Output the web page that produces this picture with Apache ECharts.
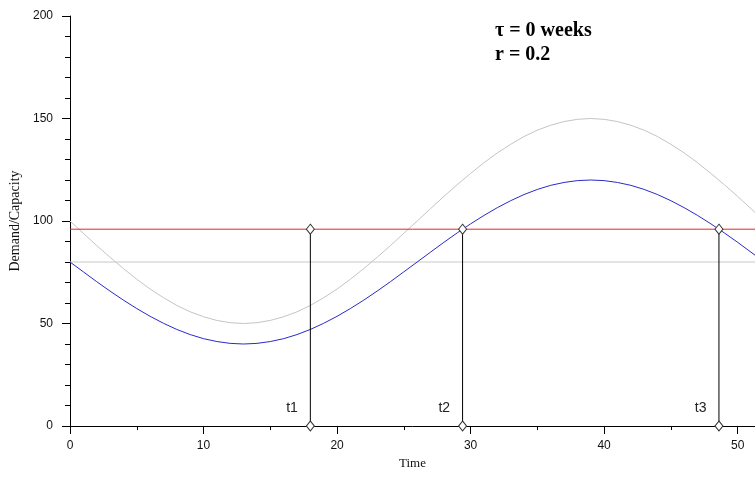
<!DOCTYPE html>
<html><head><meta charset="utf-8">
<script src="https://cdn.jsdelivr.net/npm/echarts@6/dist/echarts.min.js"></script>
<style>html,body{margin:0;padding:0;background:#fff}#c{width:755px;height:477px}</style>
</head><body><div id="c"></div>
<script>
// Weeks 0..52
const weeks = [0,1,2,3,4,5,6,7,8,9,10,11,12,13,14,15,16,17,18,19,20,21,22,23,24,25,26,27,28,29,30,31,32,33,34,35,36,37,38,39,40,41,42,43,44,45,46,47,48,49,50,51,52];
// Demand (gray curve)
const demand = [100,94,88,82.3,76.8,71.6,66.8,62.6,58.8,55.7,53.3,51.5,50.4,50,50.4,51.5,53.3,55.7,58.8,62.6,66.8,71.6,76.8,82.3,88,94,100,106,112,117.7,123.2,128.4,133.2,137.4,141.2,144.3,146.7,148.5,149.6,150,149.6,148.5,146.7,144.3,141.2,137.4,133.2,128.4,123.2,117.7,112,106,100];
// Effective demand (blue curve)
const effective = [80,75.2,70.4,65.8,61.4,57.3,53.5,50.1,47.1,44.6,42.6,41.2,40.3,40,40.3,41.2,42.6,44.6,47.1,50.1,53.5,57.3,61.4,65.8,70.4,75.2,80,84.8,89.6,94.2,98.6,102.7,106.5,109.9,112.9,115.4,117.4,118.8,119.7,120,119.7,118.8,117.4,115.4,112.9,109.9,106.5,102.7,98.6,94.2,89.6,84.8,80];
const capacity = 96;
const baseline = 80;
const crossNames = ['t1','t2','t3'];
const crossTimes = [18, 29.4, 48.6];
const xTicks = [0,10,20,30,40,50];
const xMinorTicks = [5,15,25,35,45];
const xMax = 51.3;

const serif = '"Liberation Serif","DejaVu Serif",serif';
const sans = '"Liberation Sans","DejaVu Sans",sans-serif';
const chart = echarts.init(document.getElementById('c'));

const vertSeries = crossTimes.map((t, i) => ({
  type: 'line',
  xAxisIndex: 0,
  data: [
    {value: [t, 0], label: {show: true, position: 'left', offset: [-3, -18], formatter: crossNames[i], fontFamily: sans, fontSize: 14, color: '#222'}},
    {value: [t, capacity]}
  ],
  lineStyle: {color: '#000', width: 1},
  symbol: 'diamond', symbolSize: [8, 10],
  itemStyle: {color: '#fff', borderColor: '#333', borderWidth: 1},
  z: 5, animation: false
}));

chart.setOption({
  animation: false,
  grid: {left: 70, right: 0, top: 16, bottom: 51, containLabel: false},
  xAxis: [{
    type: 'value', min: 0, max: xMax,
    name: 'Time', nameLocation: 'middle', nameGap: 31,
    nameTextStyle: {fontFamily: serif, fontSize: 13, color: '#111'},
    axisLine: {onZero: false, lineStyle: {color: '#000', width: 1}},
    axisTick: {show: true, length: 8, customValues: xTicks, lineStyle: {color: '#000'}},
    axisLabel: {customValues: xTicks, fontFamily: sans, fontSize: 12, color: '#111', margin: 14, showMaxLabel: true},
    splitLine: {show: false}
  }, {
    type: 'value', min: 0, max: xMax, position: 'bottom',
    axisLine: {show: false},
    axisTick: {show: true, length: 4, customValues: xMinorTicks, lineStyle: {color: '#000'}},
    axisLabel: {show: false},
    splitLine: {show: false}
  }],
  yAxis: {
    type: 'value', min: 0, max: 200, interval: 50,
    name: 'Demand/Capacity', nameLocation: 'middle', nameGap: 40, nameRotate: 90,
    nameTextStyle: {fontFamily: serif, fontSize: 14, color: '#111'},
    axisLine: {show: true, lineStyle: {color: '#000', width: 1}},
    axisTick: {show: true, length: 8, lineStyle: {color: '#000'}},
    minorTick: {show: true, splitNumber: 5, length: 5, lineStyle: {color: '#000'}},
    axisLabel: {fontFamily: sans, fontSize: 12, color: '#111', margin: 17},
    splitLine: {show: false}
  },
  graphic: [
    {type: 'text', left: 495, top: 21, style: {text: 'τ = 0 weeks', font: 'bold 20px ' + serif, fill: '#000'}},
    {type: 'text', left: 495, top: 45, style: {text: 'r = 0.2', font: 'bold 20px ' + serif, fill: '#000'}}
  ],
  series: [
    {type: 'line', data: weeks.map((w, i) => [w, demand[i]]), showSymbol: false, symbol: 'none',
     lineStyle: {color: '#c4c4c4', width: 1}, z: 2},
    {type: 'line', data: [[0, baseline], [xMax, baseline]], symbol: 'none',
     lineStyle: {color: '#c8c8c8', width: 1}, z: 1},
    {type: 'line', data: [[0, capacity], [xMax, capacity]], symbol: 'none',
     lineStyle: {color: '#e02828', width: 1}, z: 3},
    {type: 'line', data: weeks.map((w, i) => [w, effective[i]]), showSymbol: false, symbol: 'none',
     lineStyle: {color: '#2a2ac8', width: 1}, z: 4},
    ...vertSeries
  ]
});
</script></body></html>
